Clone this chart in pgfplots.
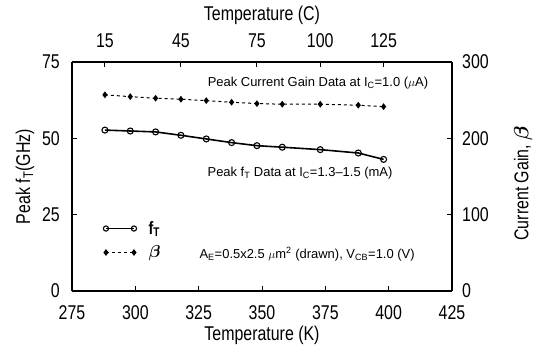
\documentclass[border=0pt]{standalone}
\usepackage{fontspec}
\setmainfont{Liberation Sans}
\newfontfamily\tickfont{Liberation Sans}[FakeStretch=0.8]
\usepackage{bm}
\usepackage{pgfplots}
\pgfplotsset{compat=1.18}
\tikzset{ann/.style={font=\fontsize{13}{15}\selectfont, anchor=center}}
\begin{document}
\begin{tikzpicture}
\pgfplotsset{
  common/.style={
    scale only axis, width=380bp, height=229bp,
    xmin=275, xmax=425,
    tick align=inside, major tick length=5bp,
    every tick/.style={black, line width=0.9pt},
    axis line style={line width=1.1pt},
    tick label style={font=\fontsize{20}{22}\tickfont, inner sep=0pt},
    label style={font=\fontsize{20}{22}\tickfont},
    /pgf/number format/assume math mode=true,
  },
}
\begin{axis}[common,
  axis x line*=bottom, axis y line*=left,
  ymin=0, ymax=75, ytick={0,25,50,75},
  xtick={275,300,325,350,375,400,425},
  xticklabel style={anchor=north, yshift=-14bp},
  yticklabel style={anchor=east, xshift=-12bp},
  xlabel={Temperature (K)},
  ylabel={Peak f\textsubscript{T}(GHz)},
  xlabel style={at={(axis description cs:0.5,-0.192)}, anchor=center},
  ylabel style={at={(axis description cs:-0.124,0.5)}, anchor=center},
]
\addplot[black, line width=1.6pt, mark=o, mark size=3bp, mark options={solid, line width=1.1pt}]
  coordinates {(288,52.7)(298,52.4)(308,52.1)(318,51.0)(328,49.8)(338,48.6)(348,47.6)(358,47.1)(373,46.3)(388,45.2)(398,43.1)};
\node[ann] at (axis cs:365,38.6) {Peak f\textsubscript{T} Data at I\textsubscript{C}=1.3--1.5 (mA)};
\node[ann] at (axis cs:367.8,12.1) {A\textsubscript{E}=0.5x2.5 $\mu$m\textsuperscript{2} (drawn), V\textsubscript{CB}=1.0 (V)};
\end{axis}
\begin{axis}[common,
  axis x line*=top, axis y line*=right,
  ymin=0, ymax=300, ytick={0,100,200,300},
  xtick={288,318,348,373,398},
  xticklabels={15,45,75,100,125},
  xticklabel style={anchor=south, yshift=14bp},
  yticklabel style={anchor=west, xshift=10bp},
  xlabel={Temperature (C)},
  ylabel={Current Gain, $\bm{\beta}$},
  xlabel style={at={(axis description cs:0.5,1.205)}, anchor=center},
  ylabel style={at={(axis description cs:1.187,0.47)}, anchor=center},
  legend style={draw=none, fill=none, at={(axis description cs:0.082,0.314)}, anchor=north west,
    font=\fontsize{18}{20}\tickfont\bfseries, row sep=6bp, inner sep=0pt},
  legend cell align=left,
  legend image code/.code={\draw[#1] plot coordinates {(0bp,0bp)(28bp,0bp)};},
]
\addlegendimage{black, line width=1.6pt, mark=o, mark size=2.6bp, mark options={solid, line width=1.1pt}}
\addlegendentry{\hspace{10bp}f\textsubscript{T}}
\addplot[black, line width=1pt, dashed, mark=diamond*, mark size=2.6bp, mark options={solid}]
  coordinates {(288,257)(298,254.6)(308,252.5)(318,251.2)(328,249.4)(338,247.3)(348,245.5)(358,244.7)(373,244.7)(388,243.4)(398,241.5)};
\addlegendentry{\hspace{10bp}$\bm{\beta}$}
\node[ann] at (axis cs:372.1,272.6) {Peak Current Gain Data at I\textsubscript{C}=1.0 ($\mu$A)};
\end{axis}
\pgfresetboundingbox
\useasboundingbox (-72bp,-60bp) rectangle (462bp,291bp);
\end{tikzpicture}
\end{document}
